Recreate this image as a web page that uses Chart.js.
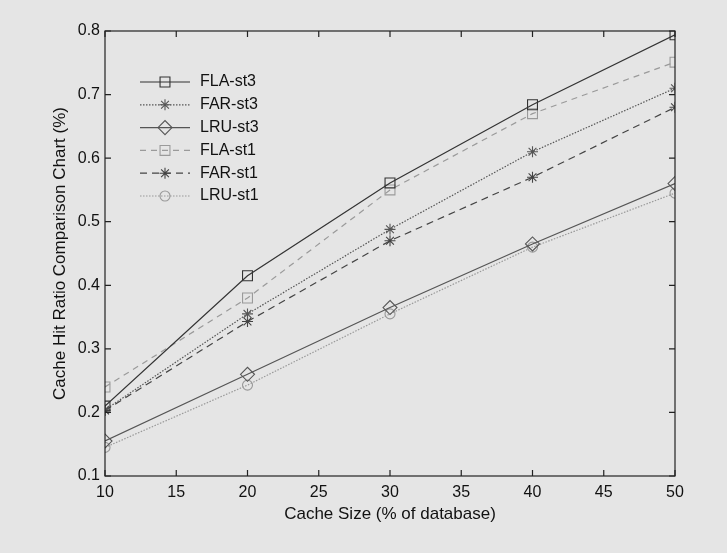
<!DOCTYPE html>
<html>
<head>
<meta charset="utf-8">
<script src="https://cdn.jsdelivr.net/npm/chart.js@4/dist/chart.umd.min.js"></script>
<style>
  html, body { margin: 0; padding: 0; background: #e5e5e5; }
  #wrap { width: 727px; height: 553px; }
</style>
</head>
<body>
<div id="wrap"><canvas id="hitChart" width="727" height="553"></canvas></div>
<script>
const cacheSizes = [10, 20, 30, 40, 50];
const xTicks = [10, 15, 20, 25, 30, 35, 40, 45, 50];
const yTicks = [0.1, 0.2, 0.3, 0.4, 0.5, 0.6, 0.7, 0.8];

const flaSt3 = [0.210, 0.415, 0.561, 0.684, 0.794];
const farSt3 = [0.204, 0.355, 0.488, 0.610, 0.710];
const lruSt3 = [0.155, 0.260, 0.365, 0.465, 0.560];
const flaSt1 = [0.240, 0.380, 0.550, 0.670, 0.751];
const farSt1 = [0.203, 0.343, 0.470, 0.570, 0.680];
const lruSt1 = [0.145, 0.243, 0.355, 0.460, 0.545];

const fontFam = "'Liberation Sans', Arial, sans-serif";

function serie(label, data, color, dash, point, radius) {
    return {
        label: label,
        data: data.map((v, i) => ({ x: cacheSizes[i], y: v })),
        borderColor: color,
        backgroundColor: "transparent",
        pointBorderColor: color,
        pointBackgroundColor: "transparent",
        borderWidth: 1.2,
        borderDash: dash,
        pointStyle: point,
        pointRadius: radius,
        pointBorderWidth: 1.1,
        tension: 0
    };
}

// legend drawn inside the plot, MATLAB style
const legendInside = {
    id: "legendInside",
    afterDatasetsDraw(chart) {
        const ctx = chart.ctx;
        const area = chart.chartArea;
        const x0 = area.left + 35, x1 = area.left + 85;
        let y = area.top + 51;
        ctx.save();
        ctx.font = "16px " + fontFam;
        ctx.textBaseline = "middle";
        chart.data.datasets.forEach(ds => {
            ctx.strokeStyle = ds.borderColor;
            ctx.lineWidth = ds.borderWidth;
            ctx.setLineDash(ds.borderDash);
            ctx.beginPath();
            ctx.moveTo(x0, y);
            ctx.lineTo(x1, y);
            ctx.stroke();
            ctx.setLineDash([]);
            ctx.fillStyle = "rgba(0,0,0,0)";
            ctx.lineWidth = ds.pointBorderWidth;
            Chart.helpers.drawPoint(ctx, {
                pointStyle: ds.pointStyle,
                radius: ds.pointRadius,
                borderWidth: ds.pointBorderWidth
            }, (x0 + x1) / 2, y);
            ctx.fillStyle = "#111";
            ctx.fillText(ds.label, x1 + 10, y);
            y += 22.8;
        });
        ctx.restore();
    }
};

// box around the plot and inward ticks
const boxTicks = {
    id: "boxTicks",
    afterDraw(chart) {
        const ctx = chart.ctx;
        const a = chart.chartArea;
        const xs = chart.scales.x, ys = chart.scales.y;
        ctx.save();
        ctx.strokeStyle = "#222";
        ctx.lineWidth = 1.2;
        ctx.strokeRect(a.left, a.top, a.right - a.left, a.bottom - a.top);
        ctx.beginPath();
        xTicks.forEach(v => {
            const px = xs.getPixelForValue(v);
            ctx.moveTo(px, a.bottom); ctx.lineTo(px, a.bottom - 6);
            ctx.moveTo(px, a.top); ctx.lineTo(px, a.top + 6);
        });
        yTicks.forEach(v => {
            const py = ys.getPixelForValue(v);
            ctx.moveTo(a.left, py); ctx.lineTo(a.left + 6, py);
            ctx.moveTo(a.right, py); ctx.lineTo(a.right - 6, py);
        });
        ctx.stroke();
        ctx.restore();
    }
};

const ctxHit = document.getElementById("hitChart").getContext("2d");

let hitChart = new Chart(ctxHit, {
    type: "line",
    data: {
        datasets: [
            serie("FLA-st3", flaSt3, "#333333", [], "rect", 7),
            serie("FAR-st3", farSt3, "#555555", [1.5, 1.5], "star", 5.5),
            serie("LRU-st3", lruSt3, "#555555", [], "rectRot", 7),
            serie("FLA-st1", flaSt1, "#9a9a9a", [6, 5], "rect", 7),
            serie("FAR-st1", farSt1, "#444444", [7, 5], "star", 5.5),
            serie("LRU-st1", lruSt1, "#999999", [1.5, 1.5], "circle", 5)
        ]
    },
    options: {
        responsive: false,
        animation: false,
        layout: { padding: { left: 46, right: 52, top: 31, bottom: 24 } },
        plugins: {
            legend: { display: false },
            tooltip: { enabled: false }
        },
        scales: {
            x: {
                type: "linear",
                min: 10,
                max: 50,
                afterBuildTicks: s => { s.ticks = xTicks.map(v => ({ value: v })); },
                afterFit: s => { s.height = 53; },
                grid: { display: false, drawTicks: false },
                border: { display: false },
                ticks: {
                    color: "#111",
                    padding: 7,
                    font: { family: fontFam, size: 16 }
                },
                title: {
                    display: true,
                    text: "Cache Size (% of database)",
                    color: "#111",
                    padding: { top: 0 },
                    font: { family: fontFam, size: 17 }
                }
            },
            y: {
                type: "linear",
                min: 0.1,
                max: 0.8,
                afterBuildTicks: s => { s.ticks = yTicks.map(v => ({ value: v })); },
                afterFit: s => { s.width = 59; },
                grid: { display: false, drawTicks: false },
                border: { display: false },
                ticks: {
                    color: "#111",
                    padding: 5,
                    callback: v => v.toFixed(1),
                    font: { family: fontFam, size: 16 }
                },
                title: {
                    display: true,
                    text: "Cache Hit Ratio Comparison Chart (%)",
                    color: "#111",
                    padding: { bottom: 4 },
                    font: { family: fontFam, size: 17 }
                }
            }
        }
    },
    plugins: [legendInside, boxTicks]
});
</script>
</body>
</html>
